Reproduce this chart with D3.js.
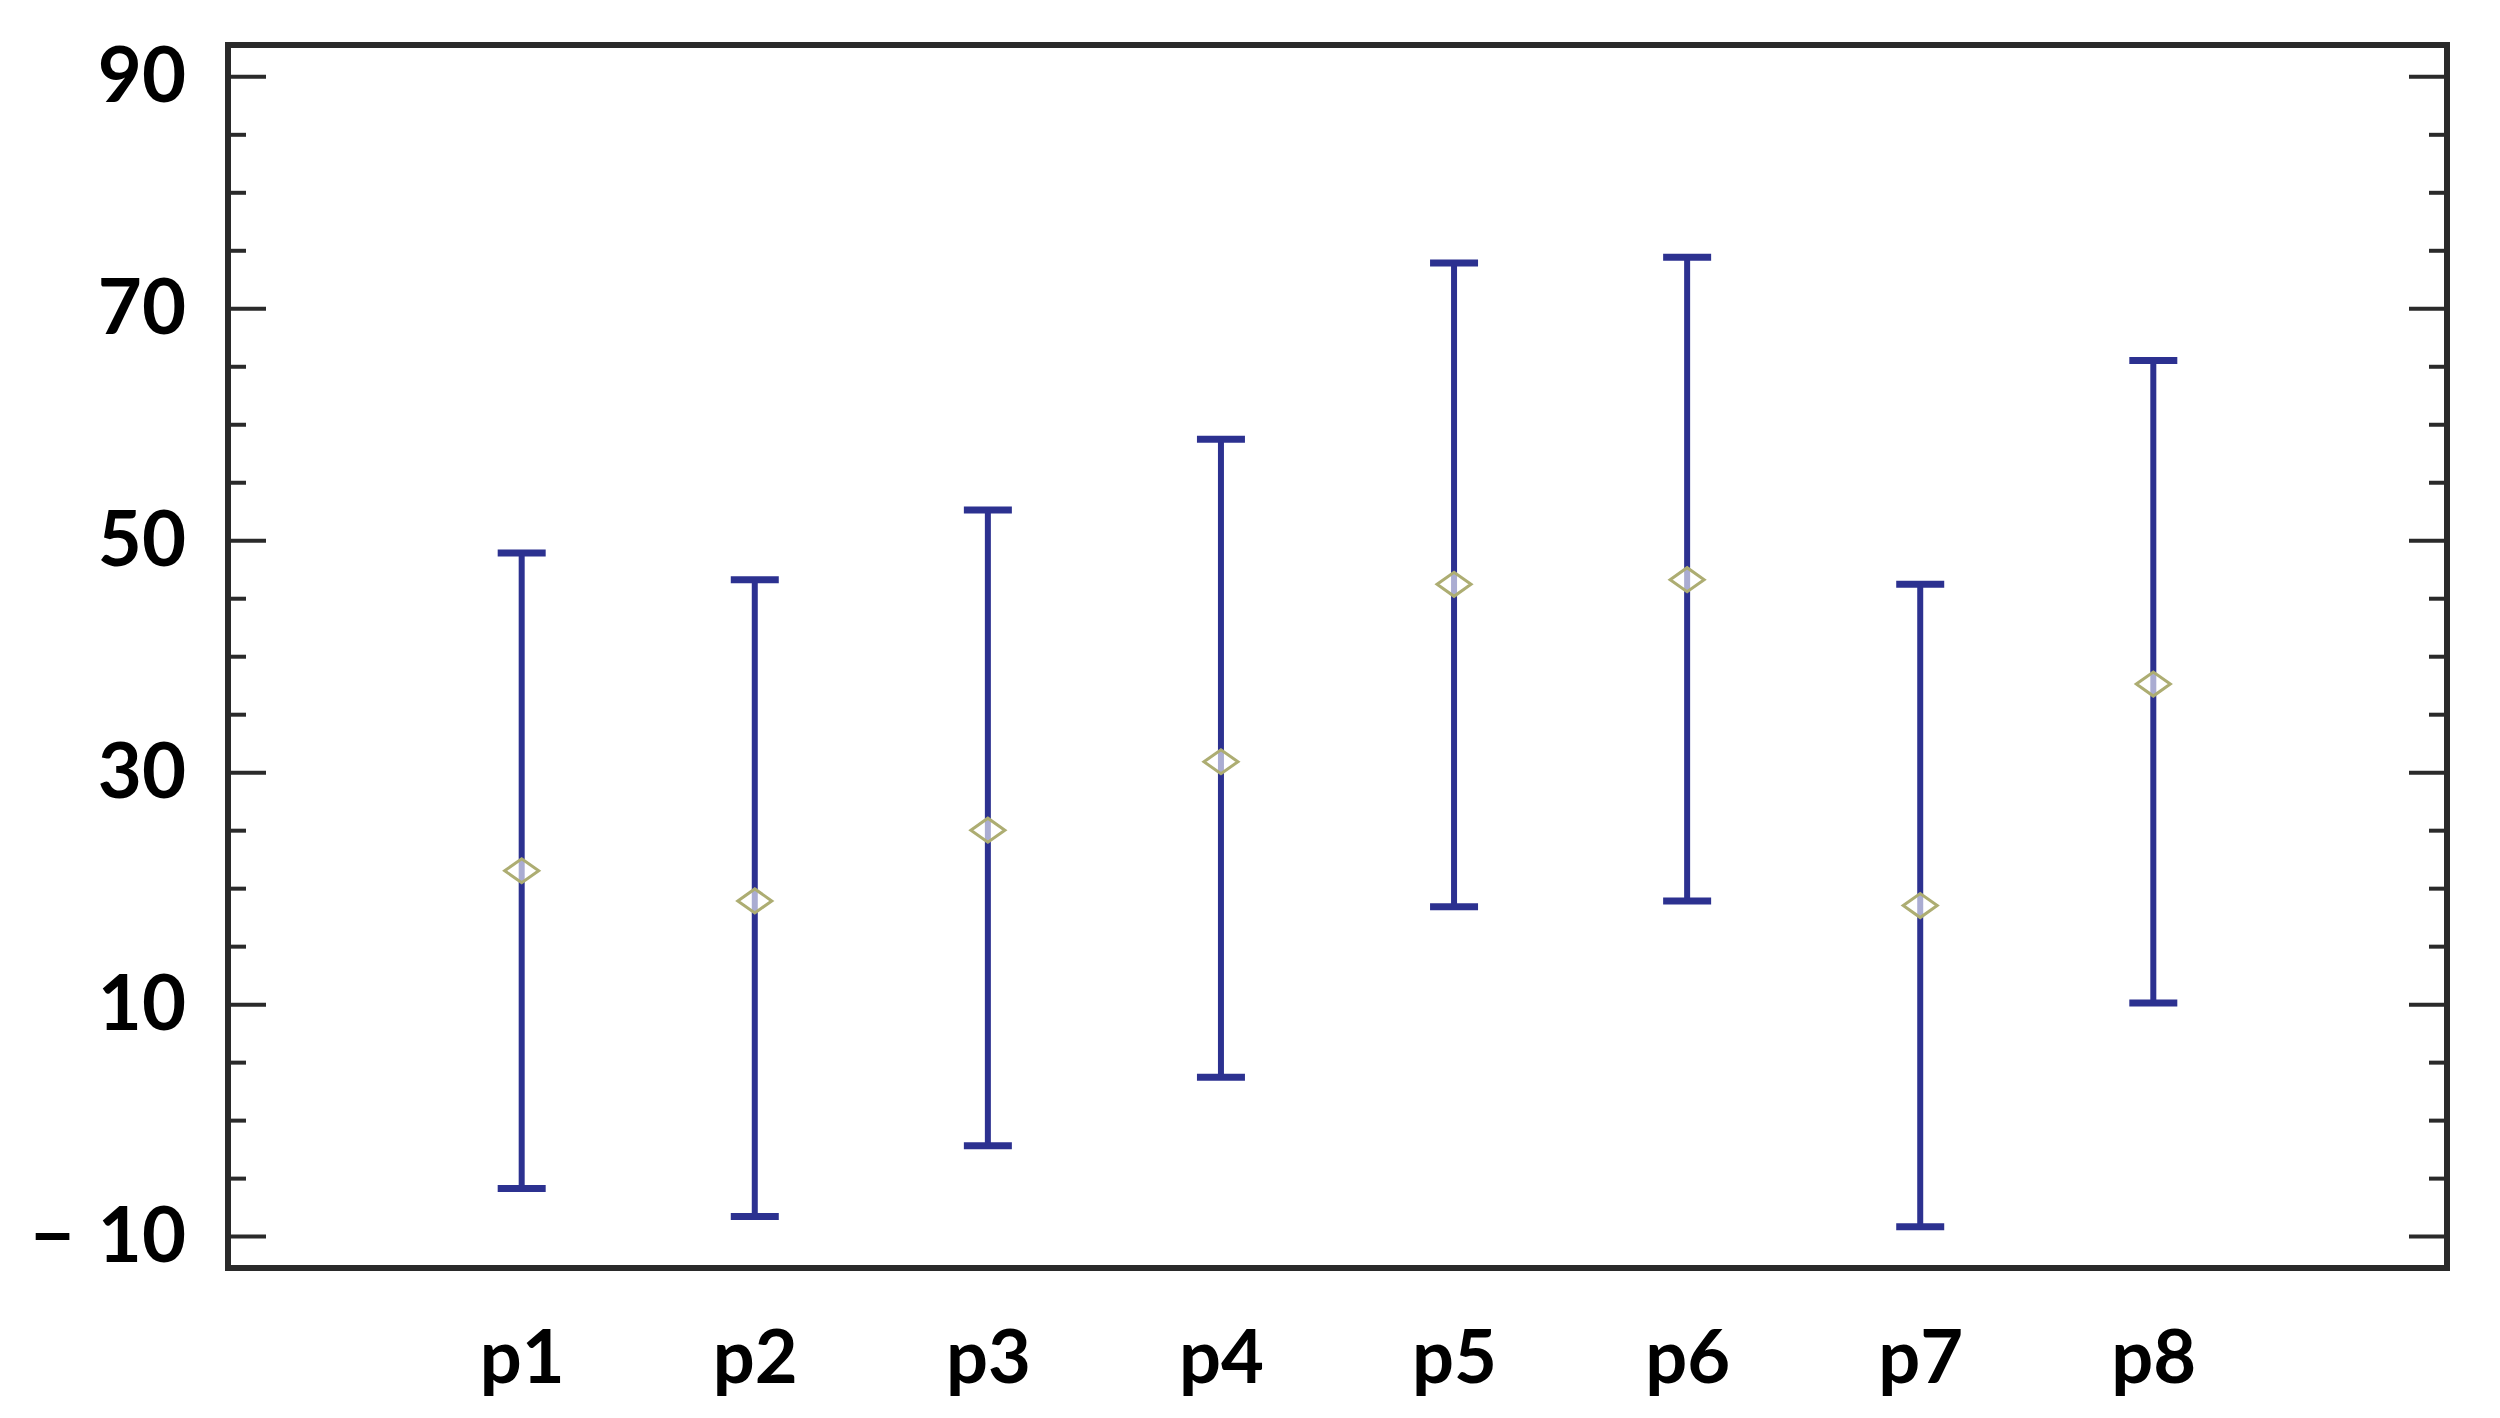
<!DOCTYPE html>
<html>
<head>
<meta charset="utf-8">
<script src="https://cdn.jsdelivr.net/npm/d3@7"></script>
<style>
  html, body { margin: 0; padding: 0; background: #fff; }
  svg { display: block; }
</style>
</head>
<body>
<svg id="chart" width="2500" height="1418"></svg>
<script>
// ---- data ----
const categories = ["p1", "p2", "p3", "p4", "p5", "p6", "p7", "p8"];
const means = [21.5, 18.9, 25.0, 30.9, 46.2, 46.6, 18.5, 37.6];
const upper = [48.9, 46.6, 52.6, 58.7, 73.9, 74.4, 46.2, 65.5];
const lower = [-5.9, -8.3, -2.2, 3.7, 18.4, 18.9, -9.2, 10.1];
const majorTicks = [-10, 10, 30, 50, 70, 90];
const minorTicks = [-5, 0, 5, 15, 20, 25, 35, 40, 45, 55, 60, 65, 75, 80, 85];
const yDomain = [-12.75, 92.7];

// ---- layout ----
const svg = d3.select("#chart");
const plotL = 228, plotR = 2447, plotT = 45, plotB = 1268;
const frameColor = "#2a2a2a";
const barColor = "#2c3190";
const markerColor = "#adad72";

const x = d3.scalePoint().domain(categories).range([plotL, plotR]).padding(1.26);
const y = d3.scaleLinear().domain(yDomain).range([plotB, plotT]);

const rows = categories.map((c, i) => ({ c, m: means[i], hi: upper[i], lo: lower[i] }));

// minor ticks (left and right)
const minorLeft = svg.append("g").attr("transform", `translate(${plotL},0)`)
  .call(d3.axisLeft(y).tickValues(minorTicks).tickSize(-18).tickFormat(""));
const minorRight = svg.append("g").attr("transform", `translate(${plotR},0)`)
  .call(d3.axisRight(y).tickValues(minorTicks).tickSize(-18).tickFormat(""));
// major ticks
const majorLeft = svg.append("g").attr("transform", `translate(${plotL},0)`)
  .call(d3.axisLeft(y).tickValues(majorTicks).tickSize(-38).tickPadding(42)
    .tickFormat(d => d < 0 ? "\u2212 \u200A" + Math.abs(d) : String(d)));
const majorRight = svg.append("g").attr("transform", `translate(${plotR},0)`)
  .call(d3.axisRight(y).tickValues(majorTicks).tickSize(-38).tickFormat(""));

[minorLeft, minorRight, majorLeft, majorRight].forEach(g => {
  g.select(".domain").remove();
  g.selectAll(".tick line").attr("stroke", frameColor).attr("stroke-width", 4);
});
majorLeft.selectAll(".tick text")
  .attr("fill", "#000")
  .attr("font-family", "Lato, 'Open Sans', sans-serif")
  .attr("font-weight", 700)
  .attr("font-size", 76)
  .attr("dy", "0.33em");

// frame
svg.append("rect")
  .attr("x", plotL).attr("y", plotT)
  .attr("width", plotR - plotL).attr("height", plotB - plotT)
  .attr("fill", "none").attr("stroke", frameColor).attr("stroke-width", 6);

// x labels
const xAxis = svg.append("g").attr("transform", `translate(0,${plotB})`)
  .call(d3.axisBottom(x).tickSize(0).tickPadding(0));
xAxis.select(".domain").remove();
xAxis.selectAll(".tick text")
  .attr("fill", "#000")
  .attr("font-family", "Lato, 'Open Sans', sans-serif")
  .attr("font-weight", 700)
  .attr("font-size", 74)
  .attr("dy", null)
  .attr("y", 115);

// error bars
const capW = 48;
const bars = svg.append("g");
bars.selectAll("line.v").data(rows).join("line")
  .attr("class", "v")
  .attr("x1", d => x(d.c)).attr("x2", d => x(d.c))
  .attr("y1", d => y(d.hi)).attr("y2", d => y(d.lo))
  .attr("stroke", barColor).attr("stroke-width", 6);
bars.selectAll("line.hi").data(rows).join("line")
  .attr("class", "hi")
  .attr("x1", d => x(d.c) - capW / 2).attr("x2", d => x(d.c) + capW / 2)
  .attr("y1", d => y(d.hi)).attr("y2", d => y(d.hi))
  .attr("stroke", barColor).attr("stroke-width", 7);
bars.selectAll("line.lo").data(rows).join("line")
  .attr("class", "lo")
  .attr("x1", d => x(d.c) - capW / 2).attr("x2", d => x(d.c) + capW / 2)
  .attr("y1", d => y(d.lo)).attr("y2", d => y(d.lo))
  .attr("stroke", barColor).attr("stroke-width", 7);

// mean markers (diamonds)
const dw = 17, dh = 12;
bars.selectAll("path.m").data(rows).join("path")
  .attr("class", "m")
  .attr("d", d => {
    const cx = x(d.c), cy = y(d.m);
    return d3.line()([[cx - dw, cy], [cx, cy - dh], [cx + dw, cy], [cx, cy + dh]]) + "Z";
  })
  .attr("fill", "#fff").attr("fill-opacity", 0.6)
  .attr("stroke", markerColor).attr("stroke-width", 3);
</script>
</body>
</html>
